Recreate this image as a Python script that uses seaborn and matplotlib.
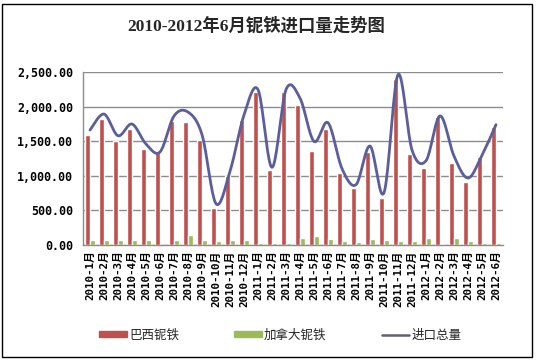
import numpy as np
import pandas as pd
import matplotlib
matplotlib.use("Agg")
import matplotlib.pyplot as plt
import seaborn as sns
from matplotlib.ticker import FuncFormatter
from matplotlib.patches import Rectangle
from matplotlib.lines import Line2D

months = ["2010-1月", "2010-2月", "2010-3月", "2010-4月", "2010-5月", "2010-6月",
          "2010-7月", "2010-8月", "2010-9月", "2010-10月", "2010-11月", "2010-12月",
          "2011-1月", "2011-2月", "2011-3月", "2011-4月", "2011-5月", "2011-6月",
          "2011-7月", "2011-8月", "2011-9月", "2011-10月", "2011-11月", "2011-12月",
          "2012-1月", "2012-2月", "2012-3月", "2012-4月", "2012-5月", "2012-6月"]
brazil = [1590, 1820, 1507, 1676, 1387, 1340, 1792, 1777, 1522, 539, 993, 1806,
          2211, 1088, 2211, 2023, 1363, 1681, 1045, 829, 1344, 684, 2404, 1315,
          1118, 1855, 1185, 910, 1267, 1710]
canada = [72, 72, 72, 72, 72, 5, 72, 144, 72, 58, 72, 72,
          34, 34, 34, 100, 134, 86, 58, 43, 86, 72, 58, 58,
          100, 10, 100, 58, 29, 29]
total = [1662, 1892, 1579, 1748, 1459, 1345, 1864, 1921, 1594, 597, 1065, 1878,
         2245, 1122, 2245, 2123, 1497, 1767, 1103, 872, 1430, 756, 2462, 1373,
         1218, 1865, 1285, 968, 1296, 1739]
series_names = ["巴西铌铁", "加拿大铌铁", "进口总量"]
colors = ["#C0504D", "#9BBB59", "#5B5E9C"]

sns.set_theme(style="white")
plt.rcParams["font.family"] = ["DejaVu Sans", "Noto Sans CJK SC"]

fig = plt.figure(figsize=(5.36, 3.6), dpi=100)
ax = fig.add_axes([83/536, 1 - 245/360, 420/536, 173/360])

df = pd.DataFrame({
    "month": months * 2,
    "value": brazil + canada,
    "series": [series_names[0]] * len(months) + [series_names[1]] * len(months),
})
sns.barplot(data=df, x="month", y="value", hue="series", order=months,
            hue_order=series_names[:2], palette=colors[:2], width=0.66,
            gap=0.0, saturation=1, ax=ax, legend=False)

# Excel-style smoothed line (cubic Bezier through points)
y = np.array(total, dtype=float)
n = len(y)
xs_all, ys_all = [], []
t = np.linspace(0, 1, 20)
for i in range(n - 1):
    p0 = np.array([i, y[i]])
    p3 = np.array([i + 1, y[i + 1]])
    prev = np.array([i - 1, y[i - 1]]) if i > 0 else p0
    nxt = np.array([i + 2, y[i + 2]]) if i + 2 < n else p3
    p1 = p0 + (p3 - prev) / 6
    p2 = p3 - (nxt - p0) / 6
    pts = ((1 - t)[:, None] ** 3 * p0 + 3 * ((1 - t) ** 2 * t)[:, None] * p1
           + 3 * ((1 - t) * t ** 2)[:, None] * p2 + (t ** 3)[:, None] * p3)
    xs_all.extend(pts[:, 0]); ys_all.extend(pts[:, 1])
sns.lineplot(x=xs_all, y=ys_all, sort=False, color=colors[2], lw=2.0, ax=ax,
             estimator=None)

ax.set_xlim(-0.5, n - 0.5)
ax.set_ylim(0, 2500)
ax.set_yticks([0, 500, 1000, 1500, 2000, 2500])
ax.yaxis.set_major_formatter(FuncFormatter(lambda v, p: f"{v:,.2f}"))
ax.grid(axis="y", color="#8c8c8c", lw=1)
ax.set_axisbelow(True)
for s in ["top", "right"]:
    ax.spines[s].set_visible(False)
for s in ["left", "bottom"]:
    ax.spines[s].set_color("#8c8c8c")
    ax.spines[s].set_linewidth(1)
ax.set_xlabel("")
ax.set_ylabel("")
ax.set_xticks(range(n))
ax.set_xticklabels(months, rotation=90, fontsize=7.8, fontweight="bold",
                   family=["DejaVu Sans Mono", "Noto Sans CJK SC"], color="#000000")
for lab in ax.get_yticklabels():
    lab.set_family("DejaVu Sans Mono")
    lab.set_fontweight("bold")
    lab.set_fontsize(8.4)
    lab.set_color("#000000")
ax.tick_params(axis="y", length=0, pad=7)
ax.tick_params(axis="x", length=0, pad=4)
# small boundary tick marks on x axis
ax.set_xticks(np.arange(-0.5, n, 1), minor=True)
ax.tick_params(axis="x", which="minor", direction="in", length=3, color="#8c8c8c", width=1)

fig.text(0.478, 1 - 26/360, "2010-2012年6月铌铁进口量走势图", ha="center", va="center",
         fontsize=12.5, fontweight="bold", family=["Liberation Serif", "Noto Sans CJK SC"])

handles = [
    Rectangle((0, 0), 1, 1, color=colors[0]),
    Rectangle((0, 0), 1, 1, color=colors[1]),
    Line2D([0], [0], color="#5f6070", lw=1.8),
]
leg = fig.legend(handles, series_names, loc="center", bbox_to_anchor=(0.523, 1 - 335/360),
                 ncol=3, frameon=False, handlelength=2.2, handleheight=0.35,
                 columnspacing=4.4, handletextpad=0.2,
                 prop={"family": ["Noto Sans CJK SC"], "size": 9})

fig.add_artist(Rectangle((1.5/536, 3/360), 530/536, 353/360, transform=fig.transFigure,
                         fill=False, edgecolor="black", lw=1))
fig.savefig("out.png", dpi=100, facecolor="white")
